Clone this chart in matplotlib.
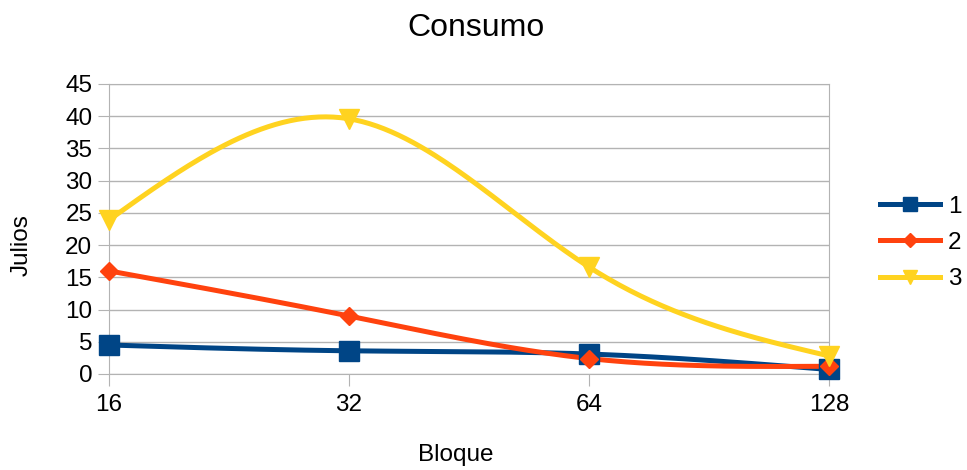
import numpy as np
import matplotlib.pyplot as plt

plt.rcParams['font.family'] = ['Liberation Sans', 'DejaVu Sans']

bloques = ['16', '32', '64', '128']
serie_1 = [4.5, 3.6, 3.1, 0.7]
serie_2 = [16.0, 9.0, 2.4, 1.2]
serie_3 = [23.9, 39.6, 16.6, 2.8]
nombres = ['1', '2', '3']
colores = ['#004586', '#ff420e', '#ffd320']
marcadores = ['s', 'D', 'v']
tamanos = [14, 9, 14]


def spline_natural(x, y, n=200):
    # spline cubico natural, como el suavizado de LibreOffice
    x = np.asarray(x, float)
    y = np.asarray(y, float)
    k = len(x)
    h = np.diff(x)
    A = np.zeros((k, k))
    b = np.zeros(k)
    A[0, 0] = A[-1, -1] = 1
    for i in range(1, k - 1):
        A[i, i - 1] = h[i - 1]
        A[i, i] = 2 * (h[i - 1] + h[i])
        A[i, i + 1] = h[i]
        b[i] = 6 * ((y[i + 1] - y[i]) / h[i] - (y[i] - y[i - 1]) / h[i - 1])
    M = np.linalg.solve(A, b)
    xs = np.linspace(x[0], x[-1], n)
    ys = np.empty_like(xs)
    for j, t in enumerate(xs):
        i = min(np.searchsorted(x, t, side='right') - 1, k - 2)
        a, c = x[i + 1] - t, t - x[i]
        ys[j] = (M[i] * a**3 + M[i + 1] * c**3) / (6 * h[i]) \
            + (y[i] / h[i] - M[i] * h[i] / 6) * a \
            + (y[i + 1] / h[i] - M[i + 1] * h[i] / 6) * c
    return xs, ys


fig = plt.figure(figsize=(9.67, 4.7), dpi=100)
ax = fig.add_axes([109 / 967, 96 / 470, 720 / 967, 290 / 470])

x = np.arange(len(bloques))
for serie, nombre, color, marca, ms in zip([serie_1, serie_2, serie_3], nombres,
                                           colores, marcadores, tamanos):
    xs, ys = spline_natural(x, serie)
    ax.plot(xs, ys, color=color, lw=3.6, solid_capstyle='round', zorder=3, clip_on=False)
    ax.plot(x, serie, linestyle='none', marker=marca, ms=ms, color=color, zorder=4,
            clip_on=False)
    ax.plot([], [], color=color, lw=3.6, marker=marca, ms=ms * 0.75, label=nombre)

ax.set_xlim(0, 3)
ax.set_ylim(0, 45)
ax.set_yticks(range(0, 46, 5))
ax.set_xticks(x)
ax.set_xticklabels(bloques)
ax.grid(axis='y', color='#b3b3b3', lw=1)
ax.set_axisbelow(True)
for s in ax.spines.values():
    s.set_color('#b3b3b3')
ax.tick_params(colors='#b3b3b3', labelcolor='black', labelsize=17.5)
ax.tick_params(axis='y', length=8, pad=4)
ax.tick_params(axis='x', length=8.5, pad=6)

fig.text(476 / 967, 1 - 28 / 470, 'Consumo', fontsize=23, ha='center', va='center')
fig.text(22 / 967, 1 - 245 / 470, 'Julios', fontsize=17.5, rotation=90,
         ha='center', va='center')
fig.text(456 / 967, 1 - 455 / 470, 'Bloque', fontsize=17.5, ha='center', va='center')

fig.legend(loc='center left', bbox_to_anchor=(0.887, 0.483), frameon=False,
           fontsize=17.5, handlelength=2.47, labelspacing=0.58, handletextpad=0.33)

fig.savefig('out.png', dpi=100)
